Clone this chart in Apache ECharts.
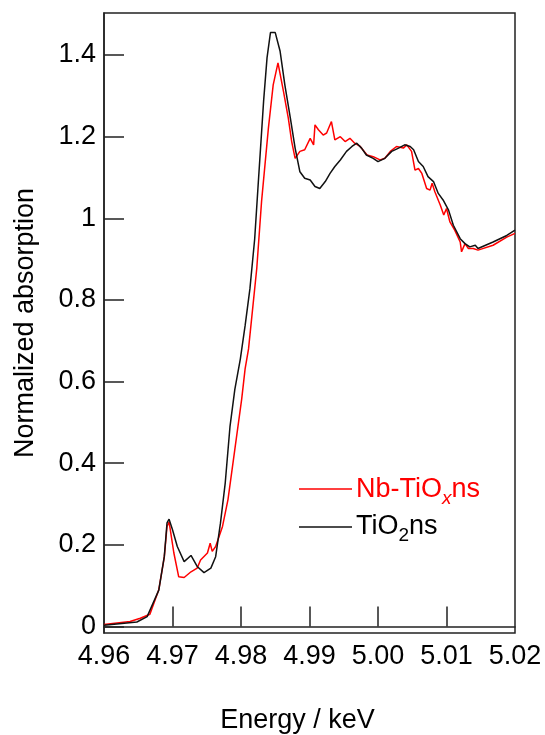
<!DOCTYPE html>
<html>
<head>
<meta charset="utf-8">
<script src="https://cdn.jsdelivr.net/npm/echarts@6/dist/echarts.min.js"></script>
<style>
  html, body { margin: 0; padding: 0; background: #fff; }
  #main { width: 545px; height: 735px; }
</style>
</head>
<body>
<div id="main"></div>
<script>
// Nb-TiOx ns (red)
const energyNb = [4.9600, 4.9638, 4.9653, 4.9667, 4.9680, 4.9688, 4.9692, 4.9695, 4.9702, 4.9709,
  4.9717, 4.9727, 4.9736, 4.9741, 4.9751, 4.9755, 4.9758, 4.9763, 4.9773, 4.9781,
  4.9791, 4.9801, 4.9806, 4.9811, 4.9816, 4.9823, 4.9830, 4.9840, 4.9847, 4.9854,
  4.9862, 4.9869, 4.9874, 4.9879, 4.9886, 4.9893, 4.9901, 4.9906, 4.9908, 4.9913,
  4.9920, 4.9925, 4.9932, 4.9937, 4.9945, 4.9952, 4.9959, 4.9966, 4.9974, 4.9984,
  4.9993, 5.0003, 5.0010, 5.0018, 5.0027, 5.0037, 5.0042, 5.0049, 5.0054, 5.0059,
  5.0064, 5.0071, 5.0076, 5.0079, 5.0083, 5.0091, 5.0096, 5.0100, 5.0105, 5.0112,
  5.0120, 5.0122, 5.0127, 5.0132, 5.0139, 5.0146, 5.0168, 5.0188, 5.0200]
const absNb = [0.005, 0.012, 0.020, 0.030, 0.090, 0.170, 0.245, 0.256, 0.180, 0.122,
  0.120, 0.134, 0.143, 0.163, 0.180, 0.204, 0.184, 0.196, 0.245, 0.311,
  0.434, 0.557, 0.631, 0.680, 0.762, 0.877, 1.041, 1.221, 1.327, 1.381,
  1.311, 1.246, 1.188, 1.147, 1.164, 1.168, 1.196, 1.180, 1.229, 1.217,
  1.204, 1.209, 1.237, 1.192, 1.200, 1.188, 1.196, 1.184, 1.176, 1.155,
  1.151, 1.143, 1.147, 1.164, 1.176, 1.172, 1.180, 1.164, 1.118, 1.122,
  1.110, 1.073, 1.069, 1.086, 1.065, 1.032, 1.008, 1.024, 0.991, 0.971,
  0.942, 0.918, 0.938, 0.926, 0.926, 0.922, 0.934, 0.954, 0.963]

// TiO2 ns (black)
const energyTi = [4.9600, 4.9648, 4.9663, 4.9680, 4.9688, 4.9690, 4.9692, 4.9695, 4.9700, 4.9707,
  4.9717, 4.9727, 4.9736, 4.9746, 4.9756, 4.9763, 4.9770, 4.9777, 4.9784, 4.9791,
  4.9799, 4.9806, 4.9813, 4.9820, 4.9825, 4.9833, 4.9838, 4.9843, 4.9850, 4.9857,
  4.9864, 4.9872, 4.9879, 4.9886, 4.9893, 4.9901, 4.9908, 4.9915, 4.9923, 4.9930,
  4.9937, 4.9945, 4.9954, 4.9962, 4.9969, 4.9976, 4.9983, 4.9993, 5.0000, 5.0010,
  5.0020, 5.0030, 5.0039, 5.0047, 5.0052, 5.0059, 5.0066, 5.0073, 5.0081, 5.0088,
  5.0095, 5.0103, 5.0110, 5.0120, 5.0127, 5.0134, 5.0142, 5.0146, 5.0168, 5.0188,
  5.0200]
const absTi = [0.003, 0.011, 0.024, 0.089, 0.171, 0.212, 0.254, 0.263, 0.237, 0.196,
  0.159, 0.174, 0.147, 0.132, 0.143, 0.171, 0.253, 0.352, 0.491, 0.581,
  0.655, 0.737, 0.827, 0.950, 1.081, 1.287, 1.393, 1.455, 1.455, 1.410,
  1.327, 1.246, 1.172, 1.114, 1.098, 1.094, 1.078, 1.073, 1.090, 1.110,
  1.127, 1.143, 1.164, 1.176, 1.184, 1.172, 1.155, 1.147, 1.139, 1.147,
  1.164, 1.172, 1.180, 1.176, 1.168, 1.139, 1.127, 1.102, 1.090, 1.061,
  1.045, 1.020, 0.983, 0.950, 0.938, 0.930, 0.934, 0.926, 0.942, 0.958,
  0.971]

const xTicks = [4.96, 4.97, 4.98, 4.99, 5.00, 5.01, 5.02]
const yTicks = [0, 0.2, 0.4, 0.6, 0.8, 1, 1.2, 1.4]

const font = 'Liberation Sans, Arial, sans-serif'

function zip(xs, ys) {
  return xs.map((x, i) => [x, ys[i]])
}

const chart = echarts.init(document.getElementById('main'))

const option = {
  animation: false,
  backgroundColor: '#fff',
  grid: {
    left: 104,
    right: 30,
    top: 13,
    bottom: 102,
    outerBoundsMode: 'none',
    containLabel: false,
    show: true,
    borderColor: '#222',
    borderWidth: 1.5
  },
  xAxis: {
    type: 'value',
    min: 4.96,
    max: 5.02,
    name: 'Energy / keV',
    nameLocation: 'middle',
    nameGap: 74,
    nameTextStyle: {fontFamily: font, fontSize: 27, color: '#000', padding: [0, 24, 0, 0]},
    axisLine: {lineStyle: {color: '#222', width: 1.5}},
    axisTick: {inside: true, length: 20, customValues: xTicks.slice(1, -1), lineStyle: {color: '#222', width: 1.5}},
    axisLabel: {
      customValues: xTicks,
      fontFamily: font, fontSize: 27, color: '#000', margin: 10,
      formatter: v => v.toFixed(2)
    },
    splitLine: {show: false}
  },
  yAxis: {
    type: 'value',
    min: -0.016,
    max: 1.503,
    name: 'Normalized absorption',
    nameLocation: 'middle',
    nameGap: 65,
    nameTextStyle: {fontFamily: font, fontSize: 27, color: '#000'},
    axisLine: {lineStyle: {color: '#222', width: 1.5}},
    axisTick: {inside: true, length: 20, customValues: yTicks, lineStyle: {color: '#222', width: 1.5}},
    axisLabel: {
      customValues: yTicks,
      fontFamily: font, fontSize: 27, color: '#000', margin: 8,
      formatter: v => String(Math.round(v * 10) / 10)
    },
    splitLine: {show: false}
  },
  graphic: [
    {type: 'line', shape: {x1: 299, y1: 489, x2: 352, y2: 489}, style: {stroke: '#ff0000', lineWidth: 1.5}},
    {type: 'line', shape: {x1: 299, y1: 527, x2: 352, y2: 527}, style: {stroke: '#111', lineWidth: 1.5}},
    {
      type: 'text', left: 356, top: 476,
      style: {
        text: '{n|Nb-TiO}{s|x}{n|ns}',
        rich: {
          n: {fontFamily: font, fontSize: 27, fill: '#ff0000', lineHeight: 30, verticalAlign: 'top'},
          s: {fontFamily: font, fontSize: 19, fontStyle: 'italic', fill: '#ff0000', lineHeight: 20, padding: [13, 0, 0, 0], verticalAlign: 'top'}
        }
      }
    },
    {
      type: 'text', left: 356, top: 513,
      style: {
        text: '{n|TiO}{s|2}{n|ns}',
        rich: {
          n: {fontFamily: font, fontSize: 27, fill: '#000', lineHeight: 30, verticalAlign: 'top'},
          s: {fontFamily: font, fontSize: 19, fill: '#000', lineHeight: 20, padding: [13, 0, 0, 0], verticalAlign: 'top'}
        }
      }
    }
  ],
  series: [
    {
      name: 'Nb-TiOx ns',
      type: 'line',
      data: zip(energyNb, absNb),
      showSymbol: false,
      symbol: 'none',
      lineStyle: {color: '#ff0000', width: 1.5}
    },
    {
      name: 'TiO2 ns',
      type: 'line',
      data: zip(energyTi, absTi),
      showSymbol: false,
      symbol: 'none',
      lineStyle: {color: '#111', width: 1.5}
    }
  ]
}

chart.setOption(option)
</script>
</body>
</html>
